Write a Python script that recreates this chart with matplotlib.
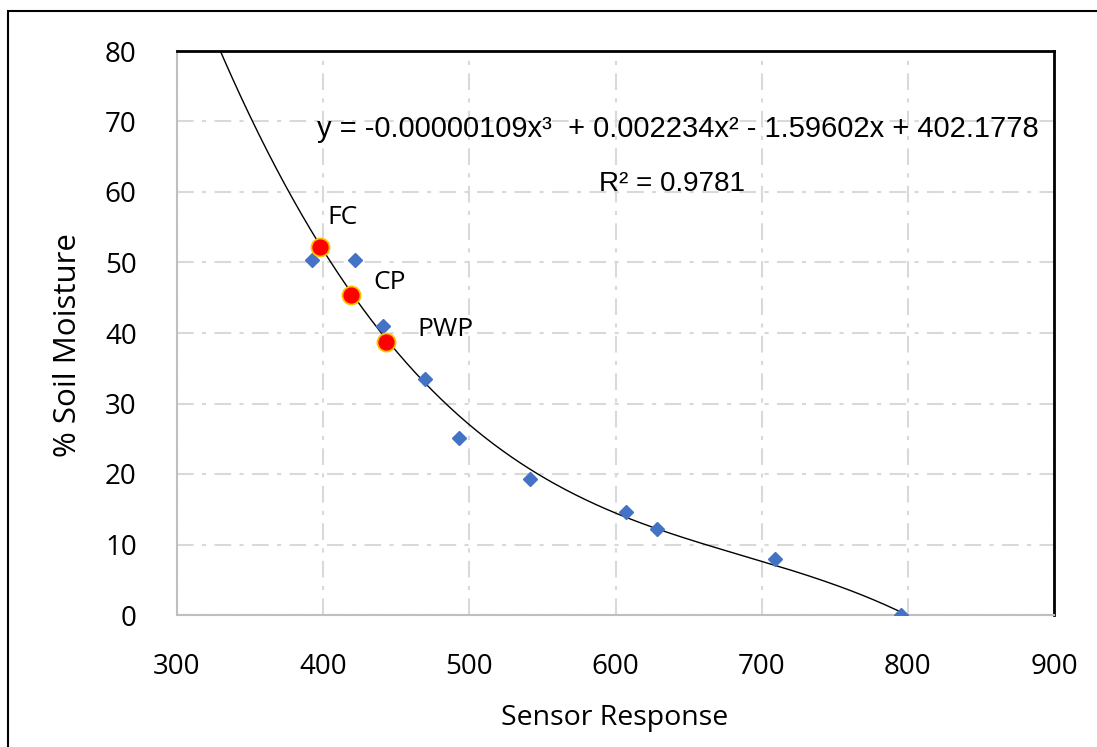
import numpy as np
import matplotlib
matplotlib.use("Agg")
import matplotlib.pyplot as plt
from matplotlib.patches import Rectangle

# Data
sensor = [392.4, 421.8, 440.9, 469.7, 492.9, 541.5, 607.2, 628.4, 709.1, 795.3]
moisture = [50.4, 50.4, 41.0, 33.5, 25.1, 19.3, 14.6, 12.2, 7.9, 0.0]

key_labels = ["FC", "CP", "PWP"]
key_sensor = [397.8, 419.0, 443.0]
key_moisture = [52.2, 45.4, 38.7]

equation_text = "y = -0.00000109x\u00b3  + 0.002234x\u00b2 - 1.59602x + 402.1778"
r2_text = "R\u00b2 = 0.9781"
x_ticks = [300, 400, 500, 600, 700, 800, 900]
y_ticks = [0, 10, 20, 30, 40, 50, 60, 70, 80]

MAIN = ["Open Sans", "DejaVu Sans"]
EQ_FONT = ["Liberation Sans", "DejaVu Sans"]
plt.rcParams["font.family"] = MAIN

W, H = 1097, 747
fig = plt.figure(figsize=(W / 100, H / 100), dpi=100)
fig.patch.set_facecolor("white")
ax = fig.add_axes([177 / W, 1 - 615 / H, (1054 - 177) / W, (615 - 51) / H])

# figure border
fig.patches.append(Rectangle((8 / W, -0.1), 2, (H - 11) / H + 0.1,
                             transform=fig.transFigure, fill=False,
                             edgecolor="black", linewidth=1.5, zorder=0))

ax.set_xlim(300, 900)
ax.set_ylim(0, 80)
ax.set_xticks(x_ticks)
ax.set_yticks(y_ticks)
ax.grid(True, color="#d9d9d9", linestyle=(0, (8, 4, 2, 4)), linewidth=1.5, zorder=0)
ax.set_axisbelow(True)
ax.tick_params(axis="x", length=0, labelsize=20, pad=27, colors="black")
ax.tick_params(axis="y", length=0, labelsize=20, pad=29, colors="black")
for s in ["left", "bottom"]:
    ax.spines[s].set_color("#bfbfbf")
    ax.spines[s].set_linewidth(1.5)
for s in ["top", "right"]:
    ax.spines[s].set_color("black")
    ax.spines[s].set_linewidth(2)

# cubic trendline fitted from the data
coef = np.polyfit(sensor, moisture, 3)
xs = np.linspace(320, max(sensor), 400)
ax.plot(xs, np.polyval(coef, xs), color="black", linewidth=1, zorder=2)

ax.plot(sensor, moisture, linestyle="none", marker="D", markersize=7.5,
        color="#4472c4", zorder=3)
ax.plot(key_sensor, key_moisture, linestyle="none", marker="o", markersize=13,
        markerfacecolor="#ff0000", markeredgecolor="#ffc000", markeredgewidth=1.3,
        zorder=4)

label_offsets = [(402.6, 56.4), (434.1, 47.2), (464.2, 40.5)]
for lab, (lx, ly) in zip(key_labels, label_offsets):
    ax.text(lx, ly, lab, fontsize=19, va="center", ha="left", zorder=5)

ax.text(395.8, 69.0, equation_text, fontsize=21, va="center", ha="left", family=EQ_FONT)
ax.text(638.6, 61.2, r2_text, fontsize=20, va="center", ha="center", family=EQ_FONT)

ax.set_xlabel("Sensor Response", fontsize=20.5)
ax.set_ylabel("% Soil Moisture", fontsize=22.5)
ax.xaxis.set_label_coords((615 - 177) / (1054 - 177), -(718 - 615) / (615 - 51))
ax.yaxis.set_label_coords(-(177 - 68) / (1054 - 177), (615 - 345) / (615 - 51))
ax.xaxis.label.set_va("center")
ax.yaxis.label.set_va("center")

fig.savefig("out.png", dpi=100, facecolor="white")
